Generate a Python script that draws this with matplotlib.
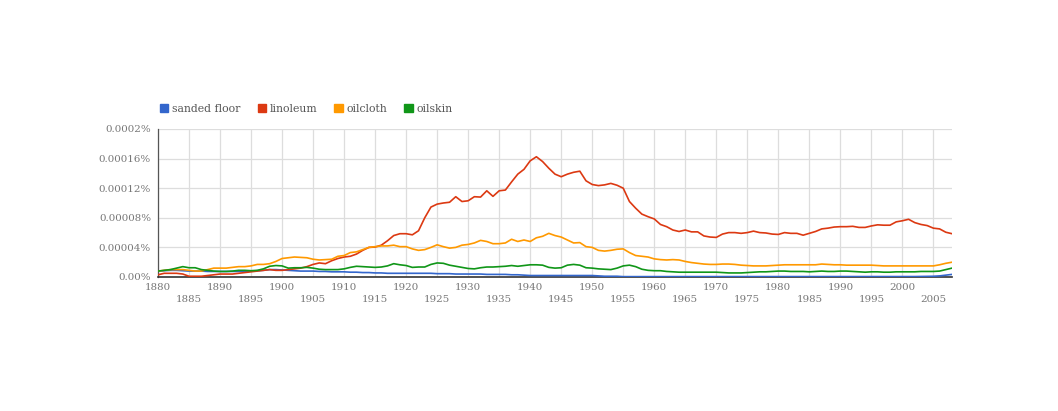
import numpy as np
import matplotlib
matplotlib.use("Agg")
import matplotlib.pyplot as plt
from matplotlib.patches import Patch

# Values in units of 1e-6 percent, one per year 1880..2008
years = list(range(1880, 2009))

sanded_floor = [
    8, 8.5, 9, 9, 8.5, 8, 8, 8, 7.5, 7.5,                 # 1880s
    7.5, 7.5, 7.5, 7.5, 7.5, 8, 8.5, 9, 10, 10,           # 1890s
    9.5, 9, 8.5, 8, 8, 8, 7.5, 7.5, 7, 7,                 # 1900s
    7, 6.5, 6.5, 6, 6, 5.5, 5.5, 5, 5, 5,                 # 1910s
    5, 5, 5, 5, 5, 4.5, 4.5, 4.5, 4, 4,                   # 1920s
    4, 4, 4, 3.5, 3.5, 3.5, 3.5, 3, 3, 2.5,               # 1930s
    2, 2, 2, 2, 2, 2, 2, 2, 2, 2,                         # 1940s
    2, 1.5, 1, 1, 1, 0.5, 0.5, 0.5, 0.5, 0.5,             # 1950s
    0.4, 0.4, 0.4, 0.4, 0.4, 0.4, 0.4, 0.4, 0.4, 0.4,     # 1960s
    0.4, 0.4, 0.4, 0.4, 0.4, 0.4, 0.4, 0.4, 0.4, 0.4,     # 1970s
    0.4, 0.4, 0.4, 0.4, 0.4, 0.4, 0.4, 0.4, 0.4, 0.4,     # 1980s
    0.4, 0.4, 0.4, 0.4, 0.4, 0.4, 0.4, 0.4, 0.4, 0.5,     # 1990s
    0.5, 0.5, 0.6, 0.7, 0.8, 1, 1.5, 2.5, 3.5,            # 2000s
]

linoleum = [
    3, 5, 5, 5, 4, 1, 1, 1, 2, 3,
    4, 4, 4, 5, 6, 7, 8, 9, 10, 9,
    9, 10, 11, 12, 14, 17, 19, 18, 22, 25,
    27, 28, 31, 36, 40, 40.5, 43, 49, 56, 58.5,
    58.5, 57, 62.5, 80, 94.5, 98.5, 100, 101, 108.5, 102,
    103, 108.5, 108, 116.5, 109, 116.5, 117.5, 128.5, 139, 145.5,
    157, 162.5, 156, 147, 139, 135.5, 139, 141.5, 143, 130,
    125, 123.5, 124.5, 126.5, 124, 120, 102, 93, 85, 81.5,
    78.5, 71, 68, 63.5, 61.5, 63.5, 61, 61, 55.5, 54,
    53.5, 58, 60, 60, 59, 60, 62, 60, 59.5, 58,
    57.5, 60, 59, 59, 56.5, 59, 61.5, 65, 66, 67.5,
    68, 68, 68.5, 67, 67, 69, 70.5, 70, 70, 74.5,
    76, 78, 73.5, 71, 69.5, 66, 65, 60.5, 58.5,
]

oilcloth = [
    8, 9, 10, 10, 10, 9, 8, 8, 10, 12,
    12, 12, 13, 14, 14, 15, 17, 17, 18, 21,
    25, 26, 27, 26.5, 26, 24, 23, 23.5, 24, 28,
    29, 33, 34, 37, 40, 41, 42, 42, 43, 41,
    41, 38, 36, 37, 40, 43.5, 41, 39, 40, 43,
    44, 46, 49.5, 48, 45, 45, 46, 51, 48, 50,
    48, 53, 55, 59, 56, 54, 50, 46, 46.5, 41,
    40, 36, 35, 36, 37.5, 38, 33, 29, 28, 27,
    24.5, 23.5, 23, 23.5, 23, 21, 19.5, 18.5, 17.5, 17,
    17, 17.5, 17.5, 17, 16, 15.5, 15, 15, 15, 15.5,
    16, 16.5, 16.5, 16.5, 16.5, 16.5, 16.5, 17.5, 17, 16.5,
    16.5, 16, 16, 16, 16, 16, 15.5, 15, 15, 15,
    15, 15, 15, 15, 15, 15, 16.5, 18.5, 20,
]

oilskin = [
    8, 9, 10, 12, 14, 12.5, 12.5, 10, 9, 8,
    7.5, 7.5, 8, 9, 9, 8.5, 9, 11, 14.5, 15.5,
    15, 12, 12.5, 12.5, 13, 12, 10.5, 10, 10, 10,
    11, 13, 14.5, 14, 13.5, 13, 13.5, 15, 18, 16.5,
    15.5, 13, 13.5, 13.5, 17, 19, 18.5, 16, 14.5, 13,
    11.5, 11, 12.5, 13.5, 13.5, 14, 14.5, 15.5, 14.5, 15.5,
    16.5, 16.5, 16, 13, 12, 12.5, 16, 17, 16, 12.5,
    12, 11, 10.5, 10, 12, 15, 16, 14, 10.5, 9,
    8.5, 8.5, 7.5, 7, 6.5, 6.5, 6.5, 6.5, 6.5, 6.5,
    6.5, 6, 5.5, 5.5, 5.5, 6, 6.5, 7, 7, 7.5,
    8, 8, 7.5, 7.5, 7.5, 7, 7.5, 8, 7.5, 7.5,
    8, 8, 7.5, 7, 6.5, 7, 7, 6.5, 6.5, 7,
    7, 7, 7, 7.5, 7.5, 7.5, 8, 10, 12,
]

series_names = ["sanded floor", "linoleum", "oilcloth", "oilskin"]
colors = ["#3366cc", "#dc3912", "#ff9900", "#109618"]

y_ticks = [0, 0.00004, 0.00008, 0.00012, 0.00016, 0.0002]
y_tick_labels = ["0.00%", "0.00004%", "0.00008%", "0.00012%", "0.00016%", "0.0002%"]
x_ticks = list(range(1880, 2006, 5))

FONT = "DejaVu Serif"
TXT = "#777777"

fig = plt.figure(figsize=(10.58, 4.11), dpi=100)
ax = fig.add_axes([158 / 1058, 1 - 277 / 411, (952 - 158) / 1058, (277 - 129) / 411])

data = [sanded_floor, linoleum, oilcloth, oilskin]
for name, vals, c in zip(series_names, data, colors):
    ax.plot(years, np.array(vals) * 1e-6, color=c, lw=1.2, solid_joinstyle="round", zorder=3)

ax.set_xlim(1880, 2008)
ax.set_ylim(0, 0.0002)

ax.set_yticks(y_ticks)
ax.set_yticklabels(y_tick_labels, fontsize=7.4, color=TXT, family=FONT)
ax.set_xticks(x_ticks)
# decades on the first row, the fives dropped to a second row
ax.set_xticklabels([str(y) if y % 10 == 0 else "\n" + str(y) for y in x_ticks],
                   fontsize=7.4, color=TXT, family=FONT, linespacing=1.5)
ax.tick_params(length=0, pad=5)
ax.tick_params(axis="x", pad=4)

ax.grid(True, color="#dddddd", lw=0.9, zorder=0)
for s in ["top", "right"]:
    ax.spines[s].set_visible(False)
ax.spines["left"].set_color("#555555")
ax.spines["left"].set_linewidth(0.9)
ax.spines["bottom"].set_color("#333333")
ax.spines["bottom"].set_linewidth(1.2)

handles = [Patch(facecolor=c, edgecolor=c) for c in colors]
leg = ax.legend(handles, series_names, loc="lower left", bbox_to_anchor=(-0.003, 1.075),
                ncol=4, frameon=False, handlelength=0.75, handleheight=0.75,
                handletextpad=0.35, columnspacing=1.6, borderaxespad=0,
                prop={"family": FONT, "size": 7.8})
for t in leg.get_texts():
    t.set_color("#555555")

fig.savefig("out.png", dpi=100, facecolor="white")
